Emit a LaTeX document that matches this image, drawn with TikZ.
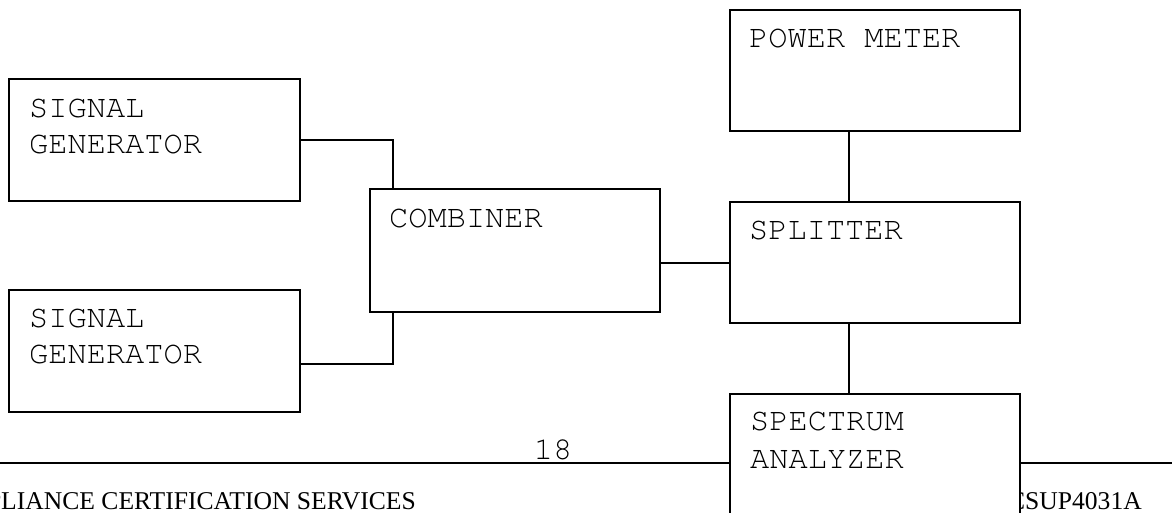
\documentclass[tikz,border=0pt]{standalone}
\usepackage{fontspec}
\setmainfont{Liberation Serif}
\newfontfamily\cour{texgyrecursor-regular.otf}
\begin{document}
\begin{tikzpicture}[x=1pt,y=-1pt,
  box/.style={draw, line width=2pt, fill=white, inner sep=0pt, anchor=north west,
              minimum width=291pt, minimum height=122pt},
  lbl/.style={inner sep=0pt, anchor=north west, align=left,
              font=\cour\fontsize{32}{36}\selectfont},
  wire/.style={line width=2pt},
  foot/.style={inner sep=0pt, font=\fontsize{25.6}{30}\selectfont}]
\useasboundingbox (0,0) rectangle (1172,512);
\clip (0,0) rectangle (1172,512);
% footer
\coordinate (fl) at (0,463);
\coordinate (fr) at (1172,463);
\draw[wire] (fl) -- (fr);
\node[foot, anchor=base east] (ft1) at (416,509) {COMPLIANCE CERTIFICATION SERVICES};
\node[foot, anchor=base east] (ft2) at (1142,509) {CSUP4031A};
\node[lbl, anchor=base] (pg) at (553,459) {18};
% boxes
\node[box] (sg1) at (8,78) {};
\node[lbl] (sg1t) at ([shift={(21,21)}]sg1.north west) {SIGNAL\\GENERATOR};
\node[box] (sg2) at (8,289) {};
\node[lbl] (sg2t) at ([shift={(21,20)}]sg2.north west) {SIGNAL\\GENERATOR};
\node[box, minimum width=290pt, minimum height=123pt] (comb) at (369,188) {};
\node[lbl] (combt) at ([shift={(20,21)}]comb.north west) {COMBINER};
\node[box, minimum width=290pt, minimum height=121pt] (pm) at (729,9) {};
\node[lbl] (pmt) at ([shift={(20,20)}]pm.north west) {POWER METER};
\node[box, minimum width=290pt, minimum height=121pt] (spl) at (729,201) {};
\node[lbl] (splt) at ([shift={(20,20)}]spl.north west) {SPLITTER};
\node[box, minimum width=290pt, minimum height=160pt] (spa) at (729,393) {};
\node[lbl, font=\cour\fontsize{32}{38}\selectfont] (spat) at ([shift={(21,19)}]spa.north west) {SPECTRUM\\ANALYZER};
% connectors
\draw[wire] (sg1.east) -| ([xshift=24pt]comb.north west);
\draw[wire] ([yshift=-13pt]sg2.east) -| ([xshift=24pt]comb.south west);
\draw[wire] (spl.west) -- (spl.west -| comb.east);
\draw[wire] ([xshift=120pt]pm.south west) -- ([xshift=120pt]spl.north west);
\draw[wire] ([xshift=120pt]spl.south west) -- ([xshift=120pt]spa.north west);
\end{tikzpicture}
\end{document}
